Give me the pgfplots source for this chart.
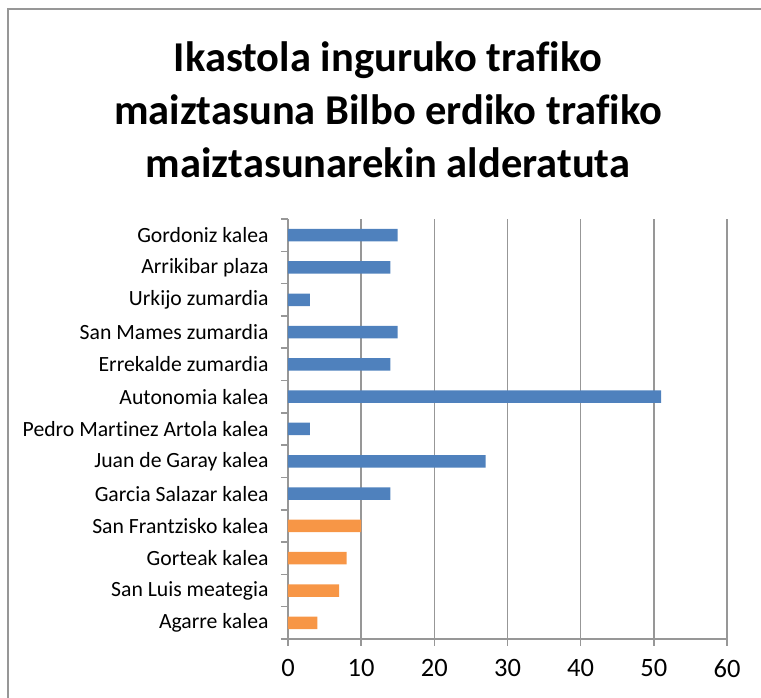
\documentclass[border=0pt]{standalone}
\usepackage{pgfplots}
\pgfplotsset{compat=1.18}
\usepackage{fontspec}
\setmainfont{Carlito}[Ligatures=NoCommon]
\definecolor{cblue}{HTML}{4F81BD}
\definecolor{corange}{HTML}{F79646}
\definecolor{cgrid}{HTML}{979797}
\begin{document}
\begin{tikzpicture}[x=1pt,y=1pt]
\path[use as bounding box] (0,0) rectangle (761,698);
\draw[cgrid, line width=2pt] (8,-20) -- (8,689) -- (800,689);
\node[align=center, font=\fontsize{42.5}{53}\selectfont\bfseries, anchor=center] at (388,588)
  {Ikastola inguruko trafiko\\maiztasuna Bilbo erdiko trafiko\\maiztasunarekin alderatuta};
\begin{axis}[
  at={(288pt,59pt)}, anchor=origin,
  scale only axis, width=439pt, height=420pt,
  xmin=0, xmax=60, ymin=0.5, ymax=13.5,
  xbar, bar width=12.5pt, bar shift=0pt,
  axis x line*=bottom, axis y line*=left,
  axis line style={cgrid, line width=1.6pt},
  xtick={0,10,...,60},
  xmajorgrids, grid style={cgrid, line width=1.6pt},
  tick align=outside,
  major tick length=7pt,
  x tick style={cgrid, line width=1.6pt},
  ytick={1,...,13},
  yticklabels={Agarre kalea, San Luis meategia, Gorteak kalea, San Frantzisko kalea, Garcia Salazar kalea, Juan de Garay kalea, Pedro Martinez Artola kalea, Autonomia kalea, Errekalde zumardia, San Mames zumardia, Urkijo zumardia, Arrikibar plaza, Gordoniz kalea},
  major y tick style={draw=none},
  minor ytick={0.5,1.5,...,13.5},
  minor y tick style={cgrid, line width=1.6pt},
  minor tick length=7pt,
  yticklabel style={font=\fontsize{21.7}{25}\selectfont, xshift=-9pt},
  xticklabel style={font=\fontsize{26.5}{30}\selectfont, yshift=-10pt},
  /pgf/number format/assume math mode=true,
  clip=false,
]
\addplot[fill=cblue, draw=none] coordinates {(14,5) (27,6) (3,7) (51,8) (14,9) (15,10) (3,11) (14,12) (15,13)};
\addplot[fill=corange, draw=none] coordinates {(4,1) (7,2) (8,3) (10,4)};
\end{axis}
\end{tikzpicture}
\end{document}
